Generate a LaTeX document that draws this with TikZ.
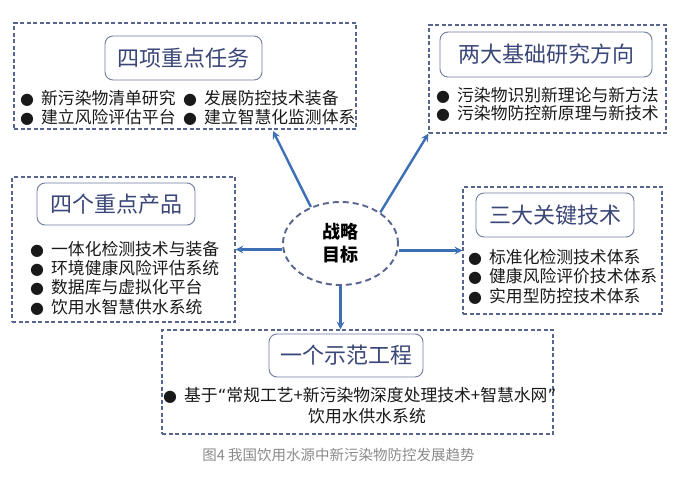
\documentclass[tikz,border=0pt]{standalone}
\usepackage{fontspec}
\setmainfont{Noto Sans CJK SC}
\newfontfamily\symfont{DejaVu Sans}
\usetikzlibrary{arrows,shapes.geometric,positioning}
\definecolor{framegray}{HTML}{56648E}
\definecolor{titleblue}{HTML}{3A4677}
\definecolor{linkblue}{HTML}{3D6FB5}
\definecolor{captiongray}{HTML}{8A8A8A}
\newcommand{\blt}{{\symfont\fontsize{16}{16}\selectfont ●}\hspace{7pt}}
\newcommand{\openq}{{\symfont“}}
\newcommand{\closeq}{{\symfont”}}

\begin{document}
\begin{tikzpicture}
      [x = 1pt, y = -1pt,
      group/.style = {
         draw = framegray,
         line width = 1.1pt,
         dash pattern = on 4pt off 2.5pt,
         inner sep = 0pt
      },
      title/.style = {
         draw = framegray!85,
         rounded corners = 8pt,
         line width = 0.9pt,
         text = titleblue,
         font = \fontsize{22}{22}\selectfont,
         inner sep = 0pt
      },
      items/.style = {
         align = left,
         anchor = west,
         inner sep = 0pt,
         text = black!90,
         font = \fontsize{16.8}{19.5}\selectfont
      },
      goalshape/.style = {
         ellipse,
         draw = framegray,
         line width = 1.9pt,
         dash pattern = on 6pt off 4pt,
         minimum width = 115pt,
         minimum height = 83pt,
         inner sep = 0pt,
         align = center,
         font = \bfseries\fontsize{18}{23}\selectfont
      },
      link/.style = {-stealth, draw = linkblue, line width = 2.4pt}]

      \useasboundingbox (0, 0) rectangle (678, 477);

      % central goal
      \node[goalshape] (goal) at (340.5, 243.5) {战略\\目标};

      % four key tasks
      \node[group, minimum width = 342pt, minimum height = 106pt] (tasks) at (185, 76) {};
      \node[title, minimum width = 157pt, minimum height = 44pt] (taskstitle) at (183.5, 58) {四项重点任务};
      \node[items] (tasksleft) at (20, 108) {\blt 新污染物清单研究\\ \blt 建立风险评估平台};
      \node[items] (tasksright) at (183, 108) {\blt 发展防控技术装备\\ \blt 建立智慧化监测体系};

      % two basic research directions
      \node[group, minimum width = 237pt, minimum height = 108pt] (basic) at (547.5, 79) {};
      \node[title, minimum width = 212pt, minimum height = 45pt] (basictitle) at (546, 54.5) {两大基础研究方向};
      \node[items, font = \fontsize{16.8}{18}\selectfont] (basicitems) at (436, 104) {\blt 污染物识别新理论与新方法\\ \blt 污染物防控新原理与新技术};

      % four key products
      \node[group, minimum width = 223pt, minimum height = 145pt] (products) at (123.5, 249.5) {};
      \node[title, minimum width = 158pt, minimum height = 42pt] (productstitle) at (116, 204) {四个重点产品};
      \node[items, font = \fontsize{16.8}{19.3}\selectfont] (productitems) at (30, 278)
         {\blt 一体化检测技术与装备\\ \blt 环境健康风险评估系统\\ \blt 数据库与虚拟化平台\\ \blt 饮用水智慧供水系统};

      % three key technologies
      \node[group, minimum width = 199pt, minimum height = 127pt] (keytech) at (562.5, 250.5) {};
      \node[title, minimum width = 158pt, minimum height = 44pt] (keytechtitle) at (555, 215) {三大关键技术};
      \node[items] (keytechitems) at (468, 276.5)
         {\blt 标准化检测技术体系\\ \blt 健康风险评价技术体系\\ \blt 实用型防控技术体系};

      % one demonstration project
      \node[group, minimum width = 391pt, minimum height = 104pt] (demo) at (357.5, 382) {};
      \node[title, minimum width = 154pt, minimum height = 43pt] (demotitle) at (346, 355.5) {一个示范工程};
      \node[items] (demoline) at (163, 395) {\blt 基于\openq 常规工艺+新污染物深度处理技术+智慧水网\closeq};
      \node[items, anchor = center] (demoline2) at (367, 416) {饮用水供水系统};

      \node[font = \fontsize{14.5}{14.5}\selectfont, text = captiongray] (caption) at (338.5, 455)
         {图4 我国饮用水源中新污染物防控发展趋势};

      % connectors
      \coordinate (tasksin) at (273, 131);
      \draw[link] (goal.129) -- (tasksin);
      \draw[link] (goal.38) -- (basic.south west);
      \draw[link] (goal.west |- products.east) -- (products.east);
      \draw[link] (goal.east |- keytech.west) -- (keytech.west);
      \draw[link] (goal.south) -- (goal.south |- demo.north);

   \end{tikzpicture}
\end{document}
